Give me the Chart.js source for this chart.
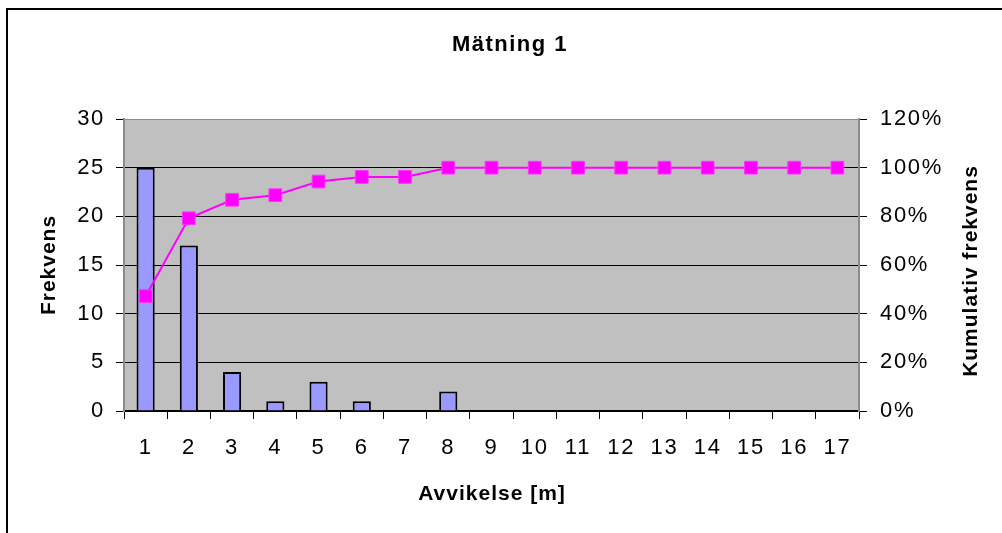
<!DOCTYPE html>
<html>
<head>
<meta charset="utf-8">
<title>Mätning 1</title>
<script src="https://cdn.jsdelivr.net/npm/chart.js@4"></script>
<style>
  html, body { margin: 0; padding: 0; background: #ffffff; }
  canvas { display: block; }
</style>
</head>
<body>
<canvas id="chart" width="1002" height="533"></canvas>
<script>
// Deviation classes (m)
const categories = ['1', '2', '3', '4', '5', '6', '7', '8', '9', '10', '11', '12', '13', '14', '15', '16', '17'];
// Number of measurements in each class
const frequency = [25, 17, 4, 1, 3, 1, 0, 2, 0, 0, 0, 0, 0, 0, 0, 0, 0];
// Cumulative share of measurements, in percent
const cumulativePercent = [47.2, 79.2, 86.8, 88.7, 94.3, 96.2, 96.2, 100, 100, 100, 100, 100, 100, 100, 100, 100, 100];
// Axis ranges
const frequencyAxis = [0, 30, 5];      // min, max, step
const percentAxis = [0, 120, 20];      // min, max, step

const chartTitle = 'Mätning 1';
const xTitle = 'Avvikelse [m]';
const yTitle = 'Frekvens';
const y2Title = 'Kumulativ frekvens';

const FONT = "'Liberation Sans', Arial, Helvetica, sans-serif";

// Layout of the plot area inside the 1002x533 canvas
const PLOT = { left: 124, right: 859, top: 119, bottom: 411 };
const W = 1002, H = 533;

const framePlugin = {
  id: 'frame',
  beforeDraw(chart) {
    const { ctx, chartArea } = chart;
    ctx.save();
    ctx.fillStyle = '#c0c0c0';
    ctx.fillRect(chartArea.left, chartArea.top, chartArea.right - chartArea.left, chartArea.bottom - chartArea.top);
    // outer chart frame
    ctx.fillStyle = '#000000';
    ctx.fillRect(6, 8, W, 2);
    ctx.fillRect(6, 8, 2, H);
    ctx.restore();
    // wide tick lettering
    ctx.letterSpacing = '1.7px';
  },
  afterDraw(chart) {
    const { ctx } = chart;
    ctx.save();
    ctx.fillStyle = '#000000';
    ctx.textBaseline = 'alphabetic';
    ctx.textAlign = 'center';

    ctx.letterSpacing = '1.5px';
    ctx.font = 'bold 22px ' + FONT;
    ctx.fillText(chartTitle, 510, 51);

    ctx.letterSpacing = '1px';
    ctx.font = 'bold 21px ' + FONT;
    ctx.fillText(xTitle, 492, 500);

    ctx.save();
    ctx.translate(55, 265);
    ctx.rotate(-Math.PI / 2);
    ctx.fillText(yTitle, 0, 0);
    ctx.restore();

    ctx.save();
    ctx.translate(977, 271);
    ctx.rotate(-Math.PI / 2);
    ctx.fillText(y2Title, 0, 0);
    ctx.restore();

    ctx.restore();
  }
};

new Chart(document.getElementById('chart'), {
  data: {
    labels: categories,
    datasets: [
      {
        type: 'line',
        label: y2Title,
        data: cumulativePercent,
        yAxisID: 'y2',
        order: 0,
        borderColor: '#ff00ff',
        borderWidth: 2,
        backgroundColor: '#ff00ff',
        pointStyle: 'rect',
        pointRadius: 9,
        pointBorderWidth: 1,
        pointBorderColor: '#ff33ff',
        pointBackgroundColor: '#ff00ff',
        tension: 0,
        clip: false
      },
      {
        type: 'bar',
        label: yTitle,
        data: frequency,
        yAxisID: 'y',
        order: 1,
        backgroundColor: '#9999ff',
        borderColor: '#000000',
        borderWidth: 2,
        barPercentage: 0.42,
        categoryPercentage: 1.0
      }
    ]
  },
  options: {
    responsive: false,
    animation: false,
    events: [],
    devicePixelRatio: 1,
    layout: { padding: { top: PLOT.top, left: 0, right: 0, bottom: 0 } },
    plugins: {
      legend: { display: false },
      title: { display: false },
      tooltip: { enabled: false }
    },
    scales: {
      x: {
        type: 'category',
        offset: true,
        afterFit(scale) { scale.height = H - PLOT.bottom; },
        grid: {
          offset: true,
          drawOnChartArea: false,
          drawTicks: true,
          tickLength: 8,
          color: '#000000',
          lineWidth: 1
        },
        border: { display: true, color: '#000000', width: 2 },
        ticks: {
          color: '#000000',
          font: { family: FONT, size: 22 },
          padding: 16,
          maxRotation: 0,
          autoSkip: false
        }
      },
      y: {
        position: 'left',
        min: frequencyAxis[0],
        max: frequencyAxis[1],
        afterFit(scale) { scale.width = PLOT.left; },
        grid: {
          drawOnChartArea: true,
          drawTicks: true,
          tickLength: 8,
          color: (c) => (c.tick && c.tick.value === frequencyAxis[1]) ? '#8c8c8c' : '#000000',
          tickColor: '#000000',
          lineWidth: 1
        },
        border: { display: true, color: '#8c8c8c', width: 2 },
        ticks: {
          stepSize: frequencyAxis[2],
          color: '#000000',
          font: { family: FONT, size: 22 },
          padding: 11
        }
      },
      y2: {
        position: 'right',
        min: percentAxis[0],
        max: percentAxis[1],
        afterFit(scale) { scale.width = W - PLOT.right; },
        grid: {
          drawOnChartArea: false,
          drawTicks: true,
          tickLength: 8,
          color: '#000000',
          lineWidth: 1
        },
        border: { display: true, color: '#8c8c8c', width: 2 },
        ticks: {
          stepSize: percentAxis[2],
          color: '#000000',
          font: { family: FONT, size: 22 },
          padding: 13,
          callback: (v) => v + '%'
        }
      }
    }
  },
  plugins: [framePlugin]
});
</script>
</body>
</html>
